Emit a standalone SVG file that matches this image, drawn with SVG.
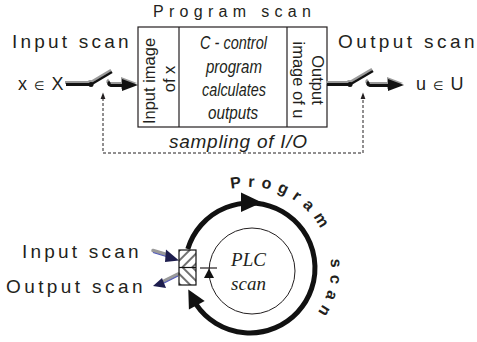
<svg xmlns="http://www.w3.org/2000/svg" xmlns:xlink="http://www.w3.org/1999/xlink" width="477" height="342" viewBox="0 0 477 342">
<style>
text{font-family:"Liberation Sans","DejaVu Sans",sans-serif;fill:#231f20}
.lbl{font-size:19px;letter-spacing:3.2px}
.it{font-style:italic}
.box{fill:#fff;stroke:#231f20;stroke-width:1.2}
.dash{fill:none;stroke:#231f20;stroke-width:1;stroke-dasharray:3 2}
.serif{font-family:"Liberation Serif","DejaVu Serif",serif;font-style:italic;font-size:19px}
.thick{fill:none;stroke:#111;stroke-width:5}
.shaft{fill:none;stroke:#9a9a9a;stroke-width:3.5;stroke-linecap:round}
.edge{fill:none;stroke:#5058b8;stroke-width:1.2}
.head{fill:#1d1d4d}
.arc{font-size:16px;font-weight:bold;letter-spacing:6.5px}
</style>
<defs>
<pattern id="hatchF" width="7" height="7" patternUnits="userSpaceOnUse" patternTransform="rotate(45)"><line x1="3" y1="0" x2="3" y2="7" stroke="#111" stroke-width="1.2"/></pattern>
<pattern id="hatchB" width="7" height="7" patternUnits="userSpaceOnUse" patternTransform="rotate(-45)"><line x1="3" y1="0" x2="3" y2="7" stroke="#111" stroke-width="1.2"/></pattern>
<g id="swL">
<path d="M66,84.5 H91" stroke-width="3" fill="none"/>
<path d="M91,84.5 L112,72" stroke-width="2.5" fill="none"/>
<circle cx="91" cy="84.5" r="2.5" stroke="none"/>
<path d="M110,82 Q107,84.5 111,85.5 H124" stroke-width="3" fill="none"/>
<polygon points="122,79 138,85 122,91" stroke="none"/>
</g>
<g id="swR">
<path d="M327,84.5 H350" stroke-width="3" fill="none"/>
<path d="M350,84.5 L373,71" stroke-width="2.5" fill="none"/>
<circle cx="350" cy="84.5" r="2.5" stroke="none"/>
<path d="M369,82 Q366,84.5 370,85.5 H390" stroke-width="3" fill="none"/>
<polygon points="388,79 404,85 388,91" stroke="none"/>
</g>
<path id="arcText1" d="M231.1,189.2 A81,81 0 0 1 328.2,247" fill="none"/>
<path id="arcText2" d="M330.5,258.7 A81,81 0 0 1 290.5,338.1" fill="none"/>
</defs>

<text id="title" x="153" y="17" style="font-size:16px;letter-spacing:5.3px">Program scan</text>
<text id="input-scan-top" class="lbl" x="12" y="48">Input scan</text>
<text id="output-scan-top" class="lbl" x="338" y="48" style="letter-spacing:3.4px">Output scan</text>

<g id="program-box">
<rect class="box" x="138" y="27" width="189" height="100"/>
<line x1="179" y1="27" x2="179" y2="127" stroke="#231f20" stroke-width="1.2"/>
<line x1="287" y1="27" x2="287" y2="127" stroke="#231f20" stroke-width="1.2"/>
<g style="font-size:16.5px" text-anchor="middle">
<text transform="translate(155,81) rotate(-90)">Input image</text>
<text transform="translate(175,79) rotate(-90)">of x</text>
<text transform="translate(312,80) rotate(90)">Output</text>
<text transform="translate(293,80) rotate(90)">image of u</text>
</g>
<g style="font-size:19px" text-anchor="middle">
<text class="it" x="233.5" y="49" textLength="67" lengthAdjust="spacingAndGlyphs">C - control</text>
<text class="it" x="234" y="73" textLength="56" lengthAdjust="spacingAndGlyphs">program</text>
<text class="it" x="234" y="96" textLength="64" lengthAdjust="spacingAndGlyphs">calculates</text>
<text class="it" x="233" y="119" textLength="50" lengthAdjust="spacingAndGlyphs">outputs</text>
</g>
<text class="it" x="169" y="148" style="font-size:19px" textLength="138">sampling of I/O</text>
</g>

<g id="input-switch">
<text x="18" y="90" style="font-size:18px;letter-spacing:1px">x <tspan style="font-size:12px">∈</tspan> X</text>
<use xlink:href="#swL" transform="translate(-1,-2)" stroke="#9a9a9a" fill="#9a9a9a"/>
<use xlink:href="#swL" stroke="#111" fill="#111"/>
</g>

<g id="output-switch">
<use xlink:href="#swR" transform="translate(-1,-2)" stroke="#9a9a9a" fill="#9a9a9a"/>
<use xlink:href="#swR" stroke="#111" fill="#111"/>
<text x="416" y="90" style="font-size:18px;letter-spacing:1px">u <tspan style="font-size:12px">∈</tspan> U</text>
</g>

<g id="connectors">
<path class="dash" d="M103,98 V153 H363 V98"/>
<polygon points="100.6,99 105.4,99 103,92.5" fill="#231f20"/>
<polygon points="360.6,99 365.4,99 363,92.5" fill="#231f20"/>
<g id="io-in-arrow">
<path class="shaft" d="M153,250.5 L168,255"/>
<path class="edge" d="M153,252.5 L168,257"/>
<polygon class="head" points="166,249.5 165,262 179,260.5"/>
</g>
<g id="io-out-arrow">
<path class="shaft" d="M178,274 L164,281"/>
<path class="edge" d="M178,276 L164,283"/>
<polygon class="head" points="162,278 166,288 153,286"/>
</g>
</g>

<g id="plc-cycle">
<path class="thick" d="M187.8,249 A65,65 0 1 1 196.1,304.3"/>
<polygon points="241,192.5 241,212 262,202.5" fill="#111"/>
<polygon points="204.7,301.1 188.9,309.5 188.3,289.4" fill="#111"/>
<circle cx="252" cy="271" r="43" fill="none" stroke="#231f20" stroke-width="1"/>
<line x1="200" y1="268" x2="217" y2="268" stroke="#231f20" stroke-width="1.2"/>
<polygon points="204,278 214,278 209,268.5" fill="#111"/>
<text class="serif" x="248.5" y="266" text-anchor="middle">PLC</text>
<text class="serif" x="248.5" y="290" text-anchor="middle">scan</text>
<text class="arc"><textPath xlink:href="#arcText1">Program</textPath></text>
<text class="arc"><textPath xlink:href="#arcText2">scan</textPath></text>
</g>

<g id="io-box">
<rect x="179" y="250" width="17" height="35" fill="#fff"/>
<rect x="179" y="250" width="17" height="17.5" fill="url(#hatchF)"/>
<rect x="179" y="267.5" width="17" height="17.5" fill="url(#hatchB)"/>
<rect x="179" y="250" width="17" height="35" fill="none" stroke="#111" stroke-width="1.2"/>
<line x1="179" y1="267.5" x2="196" y2="267.5" stroke="#111" stroke-width="1.2"/>
</g>

<text id="input-scan-bottom" class="lbl" x="22" y="258">Input scan</text>
<text id="output-scan-bottom" class="lbl" x="6" y="293" style="letter-spacing:3.4px">Output scan</text>
</svg>
